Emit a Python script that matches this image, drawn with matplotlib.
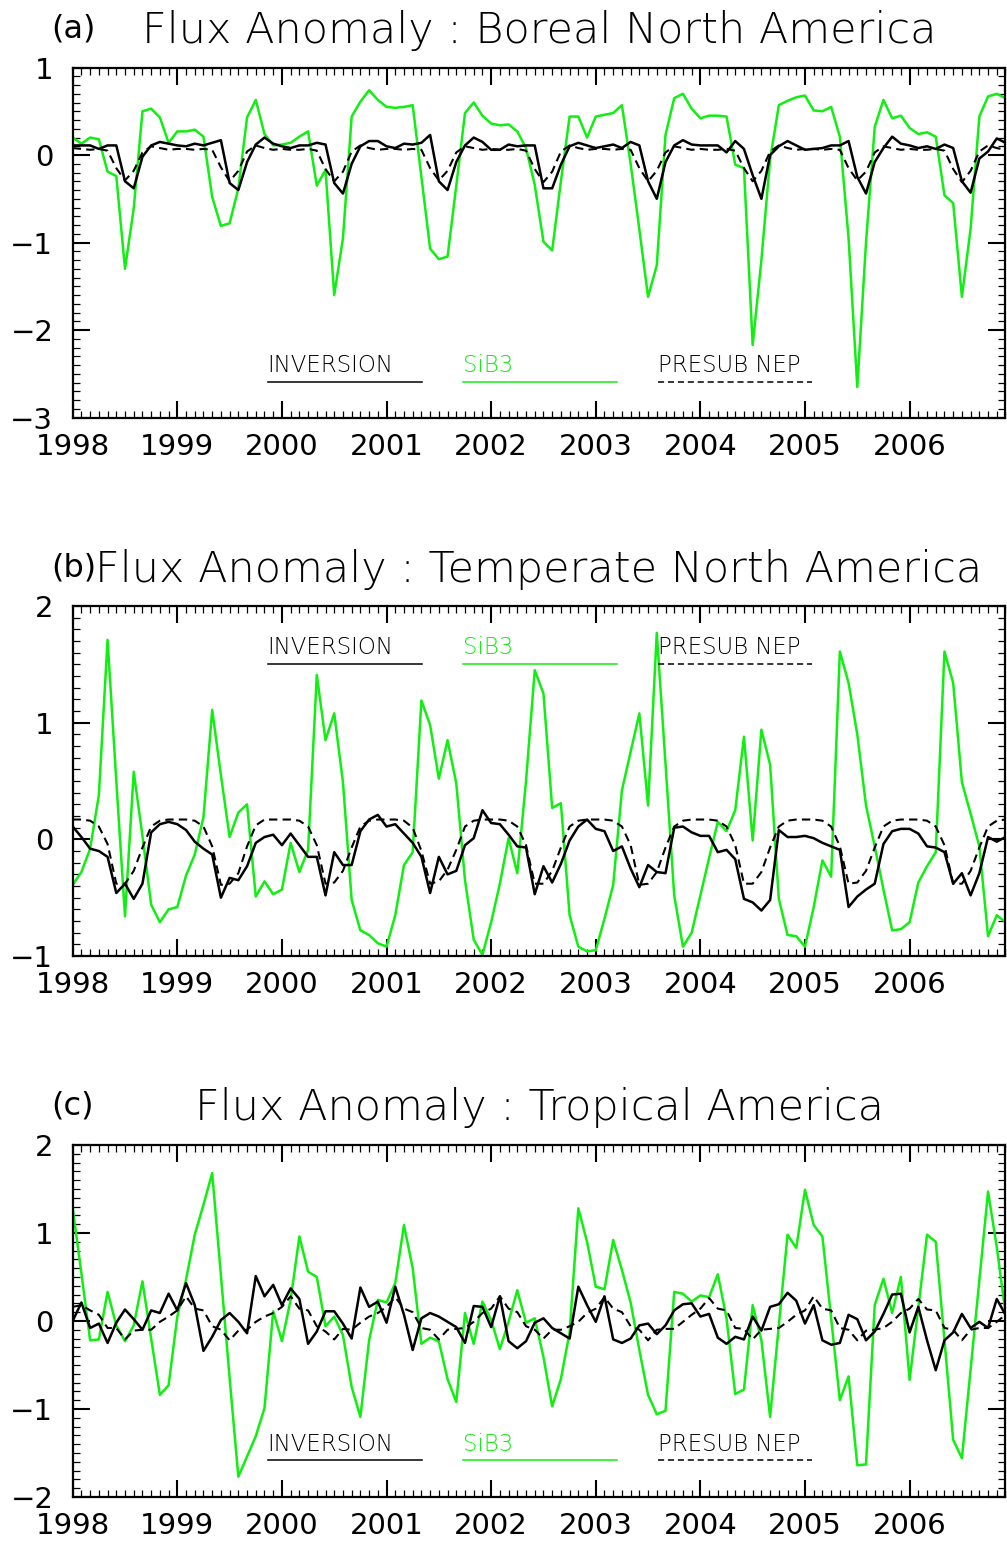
import matplotlib
matplotlib.use('Agg')
import matplotlib.pyplot as plt
from matplotlib.ticker import FixedLocator, MultipleLocator
import numpy as np

# monthly values Jan 1998 .. Dec 2006
years = [1998, 1999, 2000, 2001, 2002, 2003, 2004, 2005, 2006]
months = np.arange(108)
t = years[0] + months / 12.0

# (a) Boreal North America
sib_a = [0.20, 0.13, 0.20, 0.18, -0.19, -0.24, -1.30, -0.61, 0.50, 0.53, 0.43, 0.14,
         0.27, 0.27, 0.29, 0.21, -0.48, -0.81, -0.78, -0.38, 0.43, 0.63, 0.24, 0.11,
         0.12, 0.14, 0.21, 0.27, -0.35, -0.17, -1.60, -0.95, 0.44, 0.61, 0.74, 0.63,
         0.55, 0.54, 0.55, 0.57, -0.25, -1.07, -1.19, -1.16, -0.35, 0.48, 0.60, 0.45,
         0.36, 0.34, 0.35, 0.27, 0.08, -0.34, -0.99, -1.09, -0.30, 0.44, 0.44, 0.20,
         0.44, 0.46, 0.48, 0.57, -0.10, -0.85, -1.62, -1.26, 0.23, 0.65, 0.70, 0.53,
         0.42, 0.45, 0.45, 0.44, -0.11, -0.15, -2.17, -1.20, -0.05, 0.57, 0.62, 0.66,
         0.68, 0.51, 0.50, 0.55, 0.21, -0.95, -2.65, -1.00, 0.32, 0.63, 0.42, 0.45,
         0.31, 0.24, 0.26, 0.21, -0.46, -0.55, -1.62, -0.84, 0.44, 0.67, 0.70, 0.65]
inv_a = [0.11, 0.11, 0.11, 0.07, 0.11, 0.11, -0.30, -0.38, -0.02, 0.11, 0.15, 0.13,
         0.11, 0.10, 0.13, 0.11, 0.14, 0.17, -0.32, -0.40, -0.08, 0.12, 0.20, 0.13,
         0.10, 0.08, 0.11, 0.11, 0.14, 0.12, -0.32, -0.44, -0.10, 0.10, 0.16, 0.16,
         0.10, 0.08, 0.13, 0.12, 0.14, 0.23, -0.30, -0.40, -0.08, 0.11, 0.20, 0.15,
         0.06, 0.06, 0.12, 0.10, 0.11, 0.11, -0.38, -0.38, -0.11, 0.10, 0.14, 0.11,
         0.08, 0.10, 0.12, 0.08, 0.15, 0.11, -0.30, -0.50, -0.08, 0.11, 0.17, 0.12,
         0.11, 0.11, 0.11, 0.03, 0.16, 0.07, -0.23, -0.50, 0.00, 0.10, 0.16, 0.11,
         0.06, 0.07, 0.08, 0.11, 0.11, 0.16, -0.25, -0.44, -0.08, 0.08, 0.21, 0.13,
         0.11, 0.08, 0.10, 0.07, 0.12, 0.08, -0.30, -0.43, -0.04, 0.04, 0.19, 0.14]
nep_a = [0.08, 0.07, 0.06, 0.07, 0.05, -0.15, -0.29, -0.18, 0.03, 0.10, 0.08, 0.06,
         0.07, 0.07, 0.06, 0.07, 0.06, -0.14, -0.30, -0.18, 0.04, 0.11, 0.08, 0.06,
         0.07, 0.06, 0.06, 0.07, 0.05, -0.16, -0.30, -0.19, 0.04, 0.11, 0.08, 0.06,
         0.07, 0.07, 0.06, 0.07, 0.06, -0.15, -0.29, -0.18, 0.03, 0.10, 0.08, 0.06,
         0.07, 0.06, 0.06, 0.07, 0.05, -0.16, -0.31, -0.19, 0.04, 0.11, 0.08, 0.06,
         0.07, 0.07, 0.06, 0.07, 0.06, -0.15, -0.30, -0.18, 0.03, 0.10, 0.08, 0.06,
         0.07, 0.06, 0.06, 0.07, 0.05, -0.15, -0.30, -0.18, 0.04, 0.11, 0.08, 0.06,
         0.07, 0.07, 0.06, 0.07, 0.06, -0.15, -0.29, -0.19, 0.03, 0.10, 0.08, 0.06,
         0.07, 0.06, 0.06, 0.07, 0.05, -0.16, -0.31, -0.18, 0.04, 0.11, 0.08, 0.06]

# (b) Temperate North America
sib_b = [-0.39, -0.28, -0.08, 0.38, 1.71, 0.50, -0.66, 0.58, 0.03, -0.56, -0.71, -0.60,
         -0.58, -0.31, -0.13, 0.19, 1.11, 0.55, 0.02, 0.23, 0.30, -0.49, -0.36, -0.47,
         -0.43, -0.03, -0.28, -0.09, 1.41, 0.85, 1.08, 0.49, -0.52, -0.78, -0.82, -0.89,
         -0.92, -0.65, -0.22, -0.11, 1.19, 0.98, 0.52, 0.85, 0.48, -0.35, -0.86, -0.99,
         -0.71, -0.38, 0.01, -0.29, 0.50, 1.45, 1.25, 0.27, 0.31, -0.65, -0.92, -0.96,
         -0.95, -0.68, -0.39, 0.42, 0.75, 1.08, 0.29, 1.77, 0.65, -0.48, -0.92, -0.80,
         -0.48, -0.16, 0.15, 0.07, 0.25, 0.88, -0.01, 0.94, 0.64, -0.51, -0.82, -0.83,
         -0.92, -0.58, -0.18, -0.32, 1.61, 1.34, 0.90, 0.29, -0.06, -0.43, -0.78, -0.77,
         -0.71, -0.37, -0.23, -0.11, 1.61, 1.34, 0.49, 0.22, -0.06, -0.83, -0.65, -0.71]
inv_b = [0.11, 0.02, -0.08, -0.10, -0.15, -0.46, -0.38, -0.51, -0.38, 0.06, 0.13, 0.15,
         0.13, 0.08, -0.02, -0.08, -0.13, -0.50, -0.33, -0.35, -0.23, -0.03, 0.02, 0.04,
         -0.05, 0.05, -0.05, -0.15, -0.15, -0.48, -0.11, -0.22, -0.22, 0.07, 0.17, 0.21,
         0.11, 0.13, 0.05, -0.03, -0.15, -0.46, -0.15, -0.30, -0.27, -0.05, 0.01, 0.25,
         0.14, 0.13, 0.04, -0.06, -0.07, -0.47, -0.23, -0.37, -0.21, -0.01, 0.11, 0.17,
         0.09, 0.07, -0.10, -0.06, -0.25, -0.41, -0.22, -0.28, -0.29, 0.10, 0.11, 0.06,
         0.03, 0.03, -0.11, -0.09, -0.17, -0.51, -0.54, -0.61, -0.52, 0.08, 0.02, 0.02,
         0.03, 0.01, -0.03, -0.06, -0.09, -0.58, -0.49, -0.43, -0.38, -0.04, 0.07, 0.09,
         0.09, 0.05, -0.06, -0.07, -0.11, -0.38, -0.29, -0.48, -0.29, 0.02, -0.02, 0.02]
nep_b = [0.17, 0.17, 0.16, 0.11, -0.04, -0.38, -0.38, -0.27, -0.07, 0.11, 0.16, 0.17,
         0.17, 0.17, 0.16, 0.11, -0.06, -0.39, -0.38, -0.29, -0.06, 0.12, 0.17, 0.17,
         0.17, 0.17, 0.16, 0.11, -0.05, -0.38, -0.37, -0.27, -0.07, 0.11, 0.16, 0.17,
         0.17, 0.17, 0.16, 0.10, -0.10, -0.38, -0.36, -0.26, -0.09, 0.11, 0.16, 0.17,
         0.17, 0.17, 0.16, 0.11, -0.05, -0.38, -0.38, -0.27, -0.07, 0.11, 0.16, 0.17,
         0.17, 0.17, 0.16, 0.11, -0.05, -0.39, -0.38, -0.28, -0.07, 0.11, 0.16, 0.17,
         0.17, 0.17, 0.16, 0.11, -0.05, -0.38, -0.38, -0.28, -0.07, 0.11, 0.16, 0.17,
         0.17, 0.17, 0.16, 0.11, -0.06, -0.38, -0.37, -0.27, -0.07, 0.11, 0.16, 0.17,
         0.17, 0.17, 0.16, 0.11, -0.05, -0.38, -0.38, -0.27, -0.07, 0.11, 0.16, 0.17]

# (c) Tropical America
sib_c = [1.28, 0.54, -0.22, -0.21, 0.33, -0.05, -0.23, -0.05, 0.45, -0.20, -0.84, -0.73,
         0.05, 0.47, 0.98, 1.32, 1.68, 0.52, -0.65, -1.77, -1.54, -1.31, -0.99, 0.11,
         -0.23, 0.24, 0.96, 0.56, 0.50, -0.06, 0.05, -0.16, -0.75, -1.09, -0.22, 0.24,
         0.21, 0.43, 1.09, 0.60, -0.26, -0.19, -0.23, -0.66, -0.92, 0.09, -0.26, 0.22,
         0.01, -0.32, -0.01, 0.35, -0.02, 0.03, -0.41, -0.97, -0.66, -0.13, 1.28, 0.90,
         0.39, 0.36, 0.92, 0.58, 0.21, -0.33, -0.84, -1.06, -1.02, 0.33, 0.31, 0.22,
         0.29, 0.27, 0.53, 0.03, -0.83, -0.78, 0.18, -0.22, -1.09, -0.05, 0.98, 0.83,
         1.49, 1.09, 0.96, 0.03, -0.90, -0.63, -1.64, -1.63, 0.18, 0.48, 0.09, 0.50,
         -0.67, 0.15, 0.98, 0.90, -0.22, -1.35, -1.56, -0.55, 0.46, 1.47, 0.84, 0.09]
inv_c = [0.00, 0.21, -0.08, -0.03, -0.25, -0.02, 0.13, 0.02, -0.10, 0.12, 0.09, 0.31,
         0.12, 0.43, 0.18, -0.34, -0.18, 0.01, 0.09, -0.01, -0.14, 0.51, 0.28, 0.41,
         0.18, 0.37, 0.25, -0.26, -0.12, 0.11, 0.11, -0.03, -0.20, 0.38, 0.16, 0.22,
         -0.02, 0.39, 0.07, -0.33, 0.03, 0.09, 0.05, -0.01, -0.07, -0.25, 0.17, 0.16,
         -0.07, 0.28, -0.23, -0.31, -0.23, -0.02, 0.03, -0.08, -0.14, -0.20, 0.39, 0.18,
         -0.01, 0.28, -0.21, -0.25, -0.20, -0.05, -0.03, -0.15, -0.05, 0.12, 0.19, 0.20,
         0.05, 0.08, -0.19, -0.26, -0.18, -0.21, 0.05, -0.11, 0.16, 0.19, 0.32, 0.23,
         -0.03, 0.18, -0.22, -0.27, -0.25, 0.07, 0.02, -0.22, -0.12, 0.08, 0.30, 0.31,
         -0.13, 0.16, -0.22, -0.56, -0.22, -0.13, 0.08, -0.08, -0.01, -0.08, 0.25, 0.07]
nep_c = [0.16, 0.18, 0.12, 0.07, -0.08, -0.08, -0.21, -0.11, -0.10, -0.10, -0.01, 0.05,
         0.12, 0.28, 0.14, 0.12, -0.06, -0.10, -0.22, -0.11, -0.10, -0.01, 0.05, 0.09,
         0.16, 0.28, 0.14, 0.12, -0.06, -0.12, -0.21, -0.09, -0.10, -0.02, 0.05, 0.09,
         0.16, 0.27, 0.14, 0.10, -0.08, -0.10, -0.21, -0.10, -0.09, -0.08, -0.01, 0.09,
         0.14, 0.28, 0.14, 0.10, -0.06, -0.10, -0.20, -0.10, -0.10, -0.06, -0.01, 0.09,
         0.14, 0.27, 0.14, 0.10, -0.06, -0.10, -0.22, -0.10, -0.09, -0.09, -0.01, 0.07,
         0.14, 0.26, 0.14, 0.12, -0.08, -0.09, -0.21, -0.10, -0.09, -0.08, -0.01, 0.07,
         0.12, 0.28, 0.14, 0.12, -0.08, -0.10, -0.22, -0.11, -0.10, -0.08, -0.01, 0.09,
         0.14, 0.25, 0.13, 0.12, -0.08, -0.10, -0.22, -0.10, -0.08, -0.08, -0.01, 0.07]

GREEN = '#11ee11'

panels = [
    ('(a)', 'Flux Anomaly : Boreal North America', sib_a, inv_a, nep_a,
     (-3, 1), [0.0722, 0.7292, 0.9263, 0.2270], 0.13, 0.101),
    ('(b)', 'Flux Anomaly : Temperate North America', sib_b, inv_b, nep_b,
     (-1, 2), [0.0722, 0.3800, 0.9263, 0.2270], 0.863, 0.834),
    ('(c)', 'Flux Anomaly : Tropical America', sib_c, inv_c, nep_c,
     (-2, 2), [0.0722, 0.0292, 0.9263, 0.2283], 0.131, 0.105),
]

fig = plt.figure(figsize=(10.07, 15.42), dpi=100)

for tag, title, sib, inv, nep, ylim, rect, ytxt, yline in panels:
    ax = fig.add_axes(rect)
    ax.plot(t, sib, color=GREEN, lw=1.8, zorder=2)
    ax.plot(t, nep, color='black', lw=1.5, ls=(0, (4, 2.5)), zorder=3)
    ax.plot(t, inv, color='black', lw=1.8, zorder=4)

    ax.set_xlim(t[0], t[-1])
    ax.set_ylim(*ylim)
    ax.xaxis.set_major_locator(FixedLocator(years))
    ax.xaxis.set_minor_locator(MultipleLocator(1 / 12.0))
    ax.set_xticklabels([str(y) for y in years])
    ax.yaxis.set_major_locator(MultipleLocator(1))
    ax.yaxis.set_minor_locator(MultipleLocator(0.1))
    ax.tick_params(which='both', direction='in', top=True, right=True,
                   labelsize=21)
    ax.tick_params(which='major', length=12, width=1.5)
    ax.tick_params(which='minor', length=5, width=0.9)
    ax.tick_params(axis='x', pad=11)
    ax.tick_params(axis='y', pad=14)
    for sp in ax.spines.values():
        sp.set_linewidth(1.6)

    # panel titles
    ax.text(-0.0225, 1.11, tag, transform=ax.transAxes, fontsize=23,
            ha='left', va='center')
    ax.text(0.5, 1.105, title, transform=ax.transAxes, fontsize=31,
            ha='center', va='center', fontweight='light')

    # legend drawn as in the original
    items = [('INVERSION', 'black', '-', 0.209, 0.375),
             ('SiB3', GREEN, '-', 0.418, 0.583),
             ('PRESUB NEP', 'black', (0, (4, 2.5)), 0.627, 0.793)]
    for label, col, ls, x0, x1 in items:
        ax.text(x0, ytxt, label, transform=ax.transAxes, fontsize=16.5,
                color=col, ha='left', va='baseline', fontweight='light')
        ax.plot([x0, x1], [yline, yline], transform=ax.transAxes,
                color=col, lw=1.1, ls=ls, clip_on=False)

fig.savefig('out.png', dpi=100)
